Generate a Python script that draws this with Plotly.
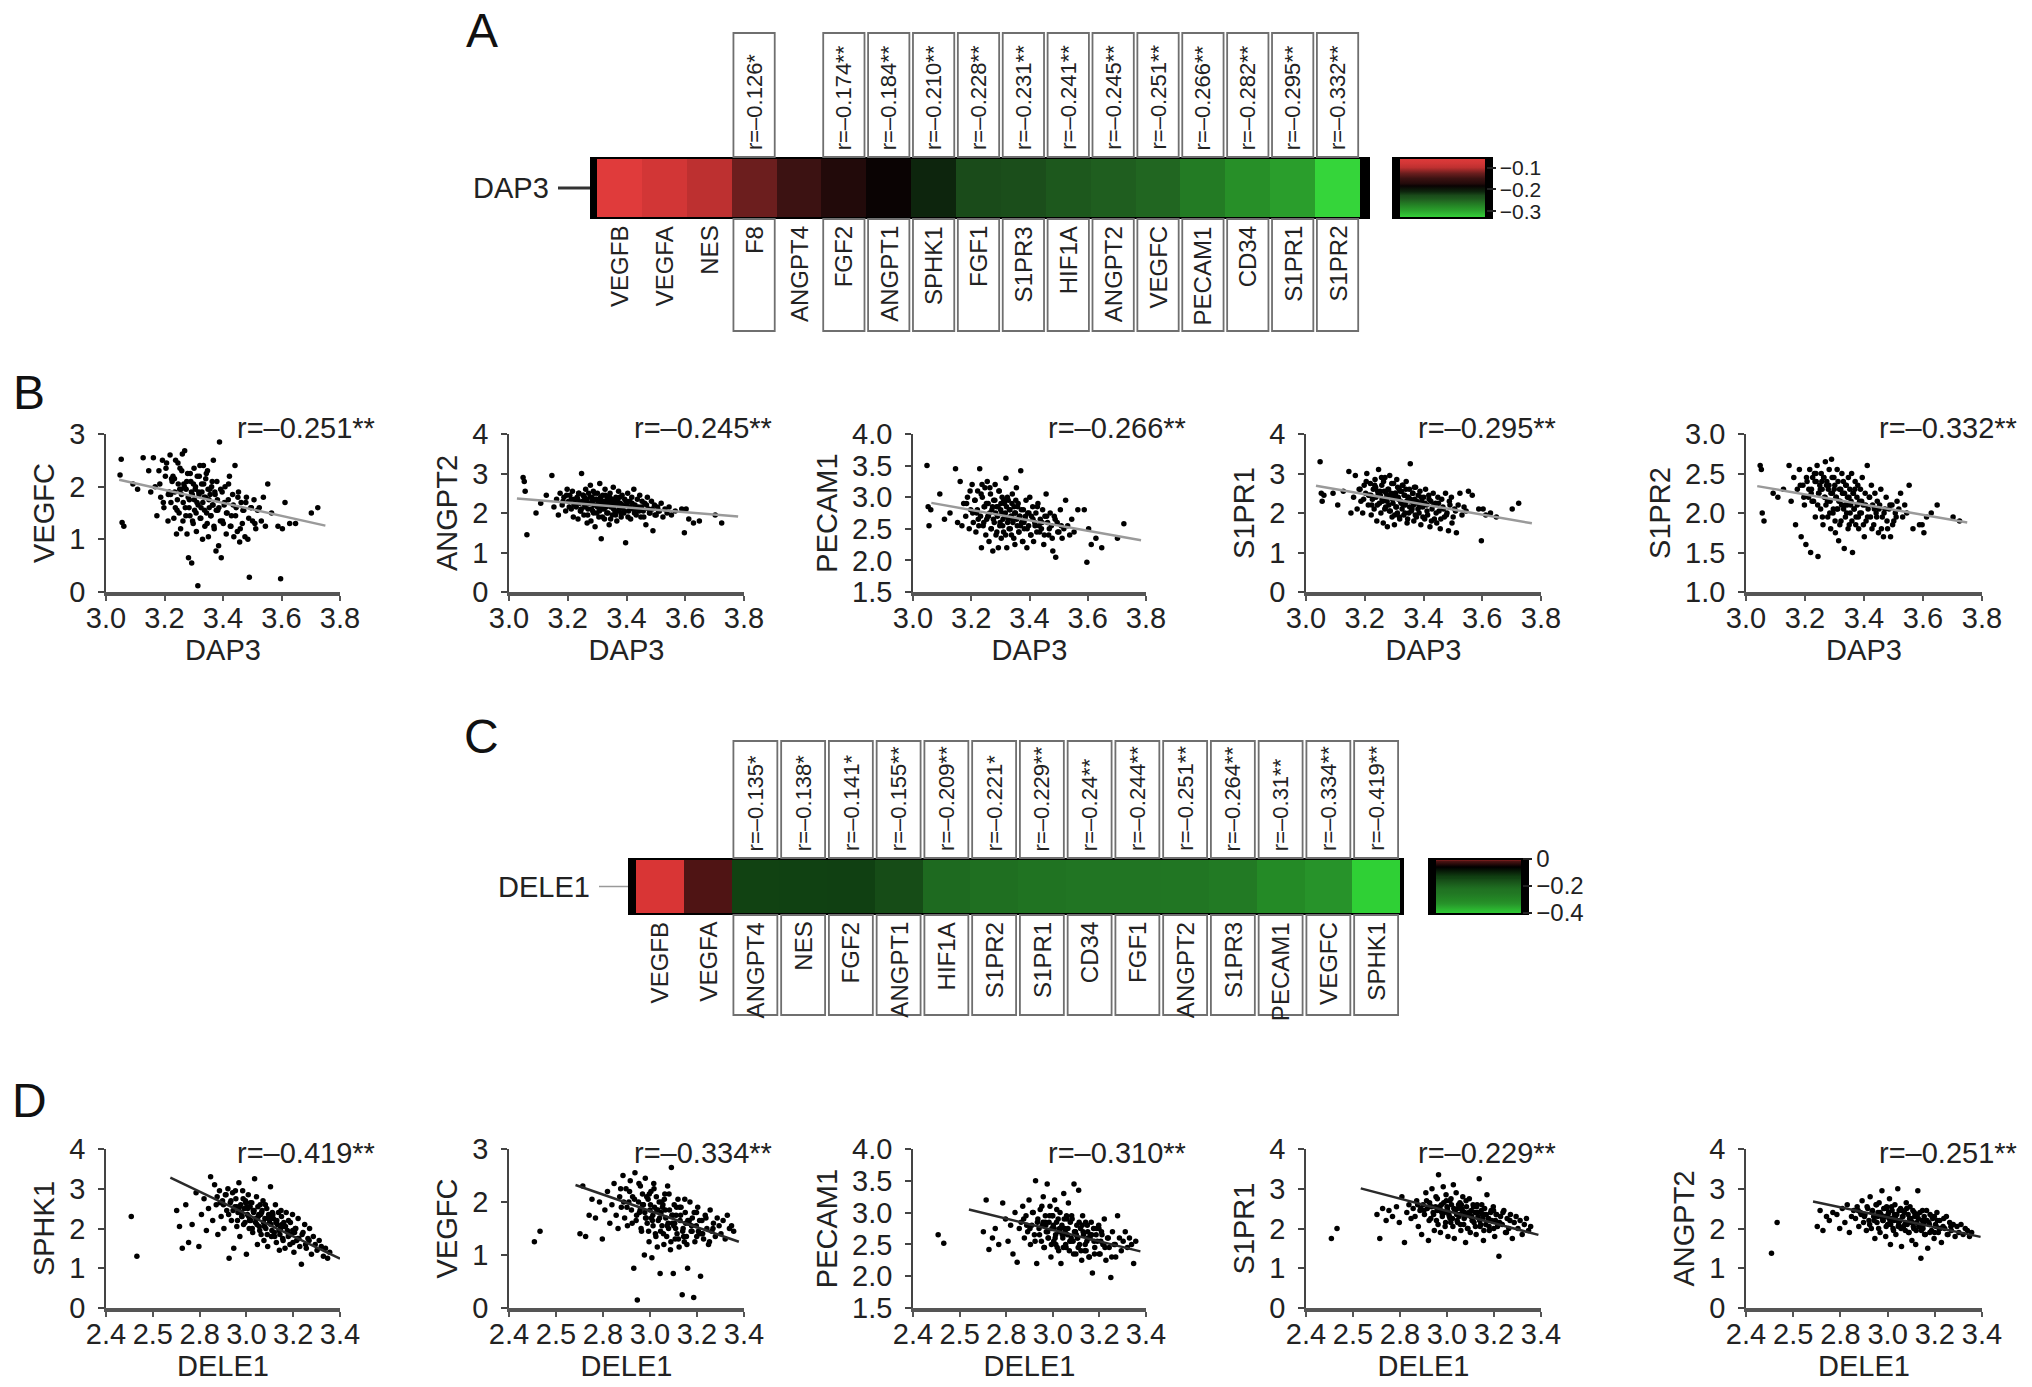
import plotly.graph_objects as go

W, H = 2032, 1387
FONT = "Liberation Sans, Arial, Helvetica, sans-serif"
INK = "#222222"

# ---------------- data: heat strips ----------------
genes_A = ["VEGFB", "VEGFA", "NES", "F8", "ANGPT4", "FGF2", "ANGPT1", "SPHK1", "FGF1",
           "S1PR3", "HIF1A", "ANGPT2", "VEGFC", "PECAM1", "CD34", "S1PR1", "S1PR2"]
r_A = [-0.05, -0.08, -0.10, -0.126, -0.15, -0.174, -0.184, -0.210, -0.228,
       -0.231, -0.241, -0.245, -0.251, -0.266, -0.282, -0.295, -0.332]
labels_A = ["", "", "", "r=–0.126*", "", "r=–0.174**", "r=–0.184**", "r=–0.210**", "r=–0.228**",
            "r=–0.231**", "r=–0.241**", "r=–0.245**", "r=–0.251**", "r=–0.266**", "r=–0.282**",
            "r=–0.295**", "r=–0.332**"]

genes_C = ["VEGFB", "VEGFA", "ANGPT4", "NES", "FGF2", "ANGPT1", "HIF1A", "S1PR2", "S1PR1",
           "CD34", "FGF1", "ANGPT2", "S1PR3", "PECAM1", "VEGFC", "SPHK1"]
r_C = [0.01, -0.015, -0.135, -0.138, -0.141, -0.155, -0.209, -0.221, -0.229,
       -0.24, -0.244, -0.251, -0.264, -0.31, -0.334, -0.419]
labels_C = ["", "", "r=–0.135*", "r=–0.138*", "r=–0.141*", "r=–0.155**", "r=–0.209**", "r=–0.221*",
            "r=–0.229**", "r=–0.24**", "r=–0.244**", "r=–0.251**", "r=–0.264**", "r=–0.31**",
            "r=–0.334**", "r=–0.419**"]

# ---------------- data: scatter (B, x = DAP3) ----------------
dap3 = [
    3.048, 3.052, 3.055, 3.061,
    3.092, 3.108, 3.127, 3.146, 3.153,
    3.162, 3.168, 3.174, 3.181, 3.187, 3.193, 3.198,
    3.203, 3.207, 3.212, 3.216, 3.219, 3.222, 3.226,
    3.229, 3.232, 3.235, 3.238, 3.241, 3.244, 3.247, 3.250,
    3.253, 3.255, 3.258, 3.261, 3.263, 3.266, 3.269, 3.271,
    3.274, 3.277, 3.279, 3.282, 3.285, 3.287, 3.290, 3.293,
    3.295, 3.298, 3.301, 3.303, 3.306, 3.309, 3.311, 3.314,
    3.317, 3.319, 3.322, 3.325, 3.327, 3.330, 3.333, 3.336,
    3.338, 3.341, 3.344, 3.347, 3.350, 3.352, 3.355, 3.358,
    3.361, 3.364, 3.367, 3.370, 3.373, 3.376, 3.379, 3.382,
    3.385, 3.388, 3.391, 3.394, 3.397, 3.401, 3.404, 3.407,
    3.411, 3.414, 3.418, 3.422, 3.425, 3.429, 3.433, 3.437,
    3.441, 3.445, 3.449, 3.453, 3.457, 3.462, 3.466, 3.471,
    3.475, 3.480, 3.485, 3.490, 3.495, 3.501, 3.506, 3.512,
    3.518, 3.524, 3.531, 3.538, 3.545, 3.553, 3.566, 3.588,
    3.597, 3.603, 3.612, 3.628, 3.648, 3.702, 3.724,
    3.221, 3.234, 3.243, 3.252, 3.259, 3.264, 3.268, 3.273,
    3.276, 3.281, 3.284, 3.288, 3.292, 3.296, 3.299, 3.302,
    3.305, 3.308, 3.312, 3.315, 3.318, 3.321, 3.324, 3.328,
    3.331, 3.334, 3.337, 3.340, 3.343, 3.346, 3.349, 3.353,
    3.356, 3.359, 3.363, 3.366, 3.369, 3.372, 3.377, 3.381,
    3.386, 3.392, 3.398, 3.405, 3.412, 3.419, 3.427, 3.435,
    3.443, 3.451, 3.459, 3.468, 3.478, 3.488, 3.497, 3.509,
    3.184, 3.196, 3.205, 3.213, 3.224, 3.237, 3.246, 3.257,
]
vegfc_B = [
    2.22, 2.52, 1.32, 1.25,
    2.05, 1.95, 2.55, 2.30, 1.90,
    2.55, 2.00, 1.45, 2.30, 1.80, 2.50, 1.60,
    2.20, 2.45, 1.35, 1.90, 2.60, 1.70, 2.10,
    2.20, 1.40, 1.90, 2.50, 1.10, 1.75, 2.05, 1.50,
    2.35, 1.20, 1.85, 2.62, 1.35, 2.05, 2.68, 1.60,
    1.95, 1.10, 2.25, 0.65, 1.75, 1.45, 2.10, 0.55,
    1.85, 1.30, 2.35, 1.55, 2.00, 1.15, 1.70, 0.12,
    1.90, 2.20, 1.40, 1.60, 2.05, 1.00, 2.40, 1.80,
    1.25, 2.15, 1.50, 2.30, 1.05, 1.75, 1.95, 1.45,
    2.00, 1.65, 2.50, 1.20, 1.85, 0.78, 2.10, 1.55,
    0.88, 2.85, 1.35, 0.65, 1.90, 1.30, 1.65, 2.00,
    1.10, 1.50, 1.75, 2.20, 1.25, 1.45, 1.85, 1.05,
    2.40, 1.60, 1.15, 1.90, 0.95, 1.70, 1.30, 1.55,
    1.05, 1.80, 1.00, 0.28, 1.60, 1.35, 1.75, 1.20,
    1.55, 1.60, 1.35, 1.80, 1.25, 2.05, 1.50, 1.25,
    0.25, 1.20, 1.70, 1.30, 1.30, 1.50, 1.60,
    1.85, 2.15, 1.55, 1.95, 2.30, 1.70, 2.00, 1.45,
    2.10, 1.80, 1.60, 2.25, 1.90, 1.35, 2.05, 1.75,
    1.95, 1.50, 2.20, 1.65, 1.85, 2.40, 1.40, 1.90,
    1.70, 2.05, 1.55, 1.80, 2.25, 1.30, 1.95, 1.60,
    1.85, 1.45, 2.10, 1.65, 1.25, 1.90, 1.55, 1.75,
    1.60, 1.95, 1.35, 1.70, 1.50, 2.05, 1.25, 1.65,
    1.45, 1.80, 1.20, 1.55, 1.70, 1.40, 1.60, 1.30,
    2.05, 1.70, 2.35, 1.85, 2.15, 1.60, 2.45, 1.95,
]
angpt2_B = [
    2.90, 2.80, 2.55, 1.45,
    2.00, 2.25, 2.45, 2.95, 2.15,
    2.35, 1.95, 2.50, 2.20, 2.40, 2.05, 2.60,
    2.30, 2.45, 2.10, 2.55, 1.90, 2.35, 2.20,
    2.15, 2.40, 1.85, 2.50, 2.25, 2.05, 3.00, 2.30,
    2.45, 1.95, 2.20, 2.60, 2.35, 1.75, 2.10, 2.50,
    2.25, 2.70, 1.80, 2.40, 2.05, 2.55, 2.20, 1.65,
    2.35, 2.00, 2.50, 2.15, 1.90, 2.75, 2.30, 1.35,
    2.10, 2.45, 2.25, 1.85, 2.60, 2.20, 2.00, 2.40,
    2.30, 1.70, 2.50, 2.15, 2.35, 1.95, 2.65, 2.20,
    2.05, 2.40, 1.80, 2.30, 2.55, 2.10, 2.25, 1.90,
    2.45, 2.15, 2.00, 2.35, 1.25, 2.20, 2.50, 2.05,
    2.30, 1.85, 2.40, 2.10, 2.60, 2.20, 1.95, 2.35,
    2.15, 2.45, 1.90, 2.30, 2.05, 2.25, 1.70, 2.40,
    2.10, 2.00, 2.30, 1.55, 2.20, 1.95, 2.15, 2.05,
    2.25, 1.90, 2.10, 2.00, 2.15, 1.95, 2.05, 2.10,
    1.50, 2.10, 1.85, 1.75, 1.80, 1.95, 1.75,
    2.20, 2.35, 2.05, 2.45, 2.15, 2.30, 1.95, 2.25,
    2.40, 2.10, 2.30, 2.00, 2.50, 2.20, 2.35, 2.15,
    2.25, 2.05, 2.40, 2.20, 1.90, 2.30, 2.10, 2.45,
    2.15, 2.35, 2.00, 2.25, 2.40, 1.85, 2.20, 2.30,
    2.10, 2.25, 1.95, 2.35, 2.05, 2.20, 2.40, 2.00,
    2.20, 2.05, 2.30, 1.90, 2.15, 2.25, 2.00, 2.10,
    2.05, 2.15, 1.90, 2.20, 2.00, 2.10, 1.95, 2.05,
    2.30, 2.45, 2.15, 2.35, 2.25, 2.50, 2.10, 2.40,
]
pecam1_B = [
    3.50, 2.85, 2.55, 2.80,
    3.05, 2.65, 2.75, 3.45, 2.60,
    3.25, 2.55, 2.90, 2.70, 3.00, 2.50, 2.80,
    3.20, 2.60, 2.95, 2.45, 2.75, 3.10, 2.55,
    3.45, 2.70, 2.20, 3.00, 2.55, 2.85, 3.15, 2.40,
    2.65, 3.25, 2.90, 2.30, 2.75, 3.05, 2.50, 2.80,
    2.15, 2.95, 2.60, 3.20, 2.40, 2.85, 2.70, 2.20,
    3.10, 2.55, 2.80, 2.35, 3.00, 2.65, 2.45, 2.90,
    2.75, 3.30, 2.20, 2.60, 2.95, 2.50, 2.80, 2.70,
    2.40, 3.05, 2.65, 2.85, 2.25, 2.75, 3.15, 2.55,
    2.90, 2.45, 2.70, 3.42, 2.60, 2.30, 2.80, 2.50,
    2.65, 2.95, 2.20, 2.75, 2.55, 3.00, 2.40, 2.70,
    2.85, 2.30, 2.60, 2.75, 2.45, 2.90, 2.55, 2.65,
    2.50, 2.80, 2.25, 2.70, 3.05, 2.60, 2.40, 2.75,
    2.55, 2.15, 2.70, 2.05, 2.60, 2.45, 2.80, 2.35,
    2.50, 2.95, 2.55, 2.40, 2.65, 2.45, 2.80, 2.80,
    1.97, 2.50, 2.25, 2.35, 2.20, 2.35, 2.58,
    2.80, 3.05, 2.60, 2.90, 2.70, 3.15, 2.50, 2.85,
    2.65, 2.95, 2.75, 2.45, 2.85, 3.10, 2.60, 2.90,
    2.75, 2.55, 2.95, 2.70, 2.40, 2.85, 3.00, 2.65,
    2.80, 2.50, 2.70, 2.90, 2.60, 2.35, 2.75, 2.95,
    2.65, 2.85, 2.45, 2.70, 2.55, 2.80, 2.30, 2.60,
    2.70, 2.50, 2.75, 2.40, 2.65, 2.55, 2.85, 2.45,
    2.60, 2.40, 2.70, 2.50, 2.35, 2.65, 2.45, 2.55,
    2.90, 3.10, 2.75, 2.95, 2.65, 3.20, 2.85, 2.70,
]
s1pr1_B = [
    3.30, 2.50, 2.30, 2.45,
    2.50, 2.20, 2.55, 3.05, 2.00,
    2.40, 2.95, 2.10, 2.60, 2.30, 2.00, 2.70,
    2.50, 3.00, 2.20, 2.45, 2.75, 1.95, 2.35,
    2.60, 2.10, 2.85, 2.40, 1.80, 2.55, 3.10, 2.25,
    2.45, 2.00, 2.70, 2.30, 1.75, 2.55, 2.90, 2.15,
    2.40, 1.65, 2.60, 2.20, 2.95, 2.05, 2.50, 1.90,
    2.35, 2.75, 1.70, 2.50, 2.15, 2.85, 2.00, 2.40,
    2.60, 1.85, 2.30, 2.55, 2.10, 2.70, 1.95, 2.45,
    2.20, 2.80, 1.75, 2.40, 2.00, 2.60, 3.25, 2.30,
    2.10, 2.50, 1.80, 2.35, 2.65, 1.90, 2.25, 2.45,
    2.00, 2.55, 1.70, 2.30, 2.15, 2.40, 1.85, 2.60,
    2.20, 1.95, 2.45, 1.65, 2.30, 2.10, 2.50, 1.85,
    2.25, 1.75, 2.40, 2.05, 1.60, 2.35, 2.15, 1.90,
    2.50, 2.00, 1.55, 2.20, 2.40, 1.90, 2.10, 1.50,
    2.20, 2.50, 1.95, 2.15, 2.05, 2.55, 2.45, 2.10,
    1.30, 2.10, 1.95, 2.00, 1.90, 2.10, 2.25,
    2.45, 2.70, 2.20, 2.55, 2.35, 2.80, 2.10, 2.50,
    2.30, 2.60, 2.05, 2.45, 2.75, 2.25, 2.40, 1.95,
    2.50, 2.15, 2.65, 2.35, 1.90, 2.55, 2.25, 2.70,
    2.20, 2.45, 2.00, 2.60, 2.30, 1.85, 2.40, 2.15,
    2.35, 2.05, 2.50, 2.20, 2.65, 1.95, 2.30, 2.10,
    2.15, 2.40, 1.90, 2.25, 2.05, 2.35, 1.80, 2.20,
    2.00, 2.25, 1.85, 2.10, 1.95, 2.30, 1.75, 2.05,
    2.60, 2.35, 2.80, 2.45, 2.20, 2.65, 2.50, 2.90,
]
s1pr2_B = [
    2.60, 2.55, 2.00, 1.90,
    2.25, 2.20, 2.30, 2.60, 2.15,
    2.45, 1.85, 2.30, 2.55, 1.70, 2.35, 2.10,
    1.60, 2.40, 2.20, 2.55, 1.50, 2.30, 2.45,
    2.15, 2.50, 1.95, 2.40, 2.60, 1.45, 2.25, 2.35,
    2.05, 2.50, 2.30, 1.85, 2.45, 2.20, 2.65, 2.10,
    2.40, 1.95, 2.30, 2.55, 2.15, 1.80, 2.68, 2.25,
    2.00, 2.45, 2.35, 1.75, 2.20, 2.55, 2.05, 1.65,
    2.30, 2.15, 1.90, 2.50, 2.25, 2.40, 1.55, 2.10,
    2.35, 2.00, 2.20, 2.45, 1.85, 2.30, 2.10, 2.50,
    1.50, 2.25, 2.05, 2.40, 1.95, 2.20, 2.35, 1.80,
    2.15, 2.30, 2.00, 2.45, 2.10, 1.70, 2.25, 1.90,
    2.60, 2.05, 2.20, 1.95, 2.35, 2.10, 1.85, 2.25,
    2.00, 2.15, 1.75, 2.10, 2.30, 1.95, 1.70, 2.05,
    2.20, 1.80, 2.05, 1.70, 2.10, 1.90, 2.00, 2.15,
    2.05, 2.25, 1.95, 2.10, 2.00, 2.35, 1.80, 1.85,
    1.85, 1.75, 1.95, 2.00, 2.10, 1.95, 1.90,
    2.25, 2.40, 2.10, 2.30, 1.95, 2.45, 2.20, 2.35,
    2.15, 2.35, 2.00, 2.25, 2.45, 2.05, 2.30, 1.90,
    2.20, 2.05, 2.40, 2.15, 1.85, 2.30, 2.10, 2.25,
    2.05, 2.25, 1.95, 2.35, 2.10, 1.80, 2.20, 2.00,
    2.15, 1.90, 2.25, 2.05, 2.30, 1.85, 2.10, 1.95,
    2.00, 2.15, 1.85, 2.10, 1.95, 2.20, 1.80, 2.05,
    1.95, 2.05, 1.80, 2.00, 1.90, 2.10, 1.85, 1.95,
    2.35, 2.20, 2.45, 2.30, 2.15, 2.50, 2.25, 2.40,
]

# ---------------- data: scatter (D, x = DELE1) ----------------
dele1 = [
    2.508, 2.532,
    2.702, 2.714, 2.726, 2.741, 2.753, 2.768,
    2.785, 2.797, 2.808, 2.819, 2.829, 2.838, 2.847, 2.856,
    2.864, 2.871, 2.878, 2.885, 2.892, 2.898, 2.904, 2.910,
    2.916, 2.921, 2.926, 2.931, 2.936, 2.941, 2.946, 2.951,
    2.955, 2.959, 2.964, 2.968, 2.972, 2.976, 2.980, 2.984,
    2.988, 2.992, 2.996, 3.000, 3.004, 3.008, 3.012, 3.016,
    3.019, 3.023, 3.027, 3.031, 3.035, 3.039, 3.043, 3.047,
    3.051, 3.055, 3.059, 3.063, 3.067, 3.071, 3.075, 3.079,
    3.083, 3.087, 3.091, 3.095, 3.099, 3.103, 3.107, 3.111,
    3.115, 3.119, 3.124, 3.128, 3.132, 3.137, 3.141, 3.146,
    3.150, 3.155, 3.160, 3.165, 3.170, 3.175, 3.180, 3.186,
    3.191, 3.197, 3.203, 3.209, 3.215, 3.221, 3.228, 3.235,
    3.242, 3.249, 3.256, 3.263, 3.270, 3.278, 3.286, 3.294,
    3.302, 3.311, 3.320, 3.329, 3.338, 3.347, 3.356,
    2.902, 2.913, 2.924, 2.934, 2.943, 2.953, 2.962, 2.970,
    2.978, 2.986, 2.994, 3.002, 3.010, 3.017, 3.025, 3.033,
    3.041, 3.049, 3.057, 3.065, 3.073, 3.081, 3.089, 3.097,
    3.105, 3.113, 3.121, 3.130, 3.139, 3.148, 3.157, 3.167,
    3.177, 3.188, 3.199, 3.211, 3.224, 3.238, 3.253, 3.268,
    2.968, 2.981, 2.997, 3.013, 3.029, 3.045, 3.061, 3.077,
    3.093, 3.109, 3.126, 3.143, 3.161, 3.179, 3.198, 3.219,
    2.875, 2.888, 2.958, 3.006, 3.053, 3.101, 3.152, 3.206,
]
sphk1_D = [
    2.30, 1.30,
    2.45, 2.05, 1.50, 2.60, 1.65, 2.10,
    2.90, 1.55, 2.35, 2.75, 1.95, 2.50, 3.30, 2.20,
    3.10, 2.60, 1.85, 2.95, 2.30, 2.70, 2.00, 2.85,
    2.45, 3.00, 1.25, 2.65, 2.20, 2.90, 1.50, 2.55,
    2.75, 2.05, 2.40, 3.15, 1.80, 2.60, 2.30, 2.95,
    2.10, 2.50, 2.70, 1.35, 2.35, 2.85, 2.00, 2.55,
    2.20, 2.65, 1.90, 2.40, 3.25, 2.15, 2.80, 1.60,
    2.30, 2.05, 2.60, 1.85, 2.45, 2.70, 1.70, 2.25,
    2.00, 2.50, 1.55, 2.35, 2.15, 3.05, 1.80, 2.40,
    2.25, 1.90, 2.60, 1.65, 2.10, 2.40, 1.45, 2.00,
    2.30, 1.75, 2.15, 1.50, 2.40, 1.95, 2.20, 1.60,
    1.85, 2.35, 1.40, 2.00, 1.70, 2.25, 1.55, 1.10,
    1.90, 2.10, 1.50, 1.75, 2.00, 1.35, 1.80, 1.60,
    1.45, 1.70, 1.55, 1.30, 1.50, 1.25, 1.40,
    2.60, 2.85, 2.35, 2.70, 2.45, 2.95, 2.20, 2.55,
    2.40, 2.75, 2.15, 2.55, 2.30, 2.65, 2.00, 2.45,
    2.25, 2.55, 1.95, 2.40, 2.15, 2.60, 1.85, 2.30,
    2.10, 2.35, 1.80, 2.20, 1.95, 2.45, 1.70, 2.05,
    1.90, 2.15, 1.65, 2.00, 1.75, 1.85, 1.60, 1.70,
    2.50, 2.30, 2.65, 2.20, 2.45, 2.10, 2.35, 2.05,
    2.25, 1.95, 2.15, 1.85, 2.05, 1.80, 1.95, 1.75,
    2.80, 2.65, 2.55, 2.50, 2.35, 2.25, 2.10, 1.90,
]
vegfc_D = [
    1.25, 1.45,
    1.40, 2.30, 1.35, 1.75, 2.05, 1.70,
    2.00, 1.30, 1.85, 2.20, 1.60, 1.95, 2.35, 1.75,
    1.50, 2.10, 1.90, 2.50, 1.70, 2.25, 1.55, 2.00,
    2.40, 1.85, 2.10, 0.75, 2.55, 1.65, 0.15, 2.00,
    1.80, 2.30, 1.45, 2.15, 1.95, 1.00, 2.45, 1.70,
    1.60, 2.05, 1.25, 1.85, 2.20, 0.95, 1.75, 2.35,
    1.90, 1.40, 2.10, 1.15, 1.65, 2.00, 0.65, 1.80,
    1.55, 1.95, 1.20, 2.15, 1.70, 1.35, 2.30, 1.50,
    1.85, 1.10, 2.65, 1.60, 0.65, 1.95, 1.30, 1.75,
    1.40, 2.05, 1.15, 1.65, 1.90, 0.25, 1.50, 1.25,
    1.80, 1.35, 0.75, 1.60, 2.00, 1.45, 1.70, 0.20,
    1.25, 1.55, 1.90, 1.40, 0.60, 1.65, 1.30, 1.75,
    1.50, 1.20, 1.85, 1.45, 1.60, 1.35, 1.70, 1.55,
    1.40, 1.65, 1.30, 1.75, 1.50, 1.55, 1.45,
    1.90, 2.20, 1.60, 2.05, 1.75, 2.35, 1.50, 1.95,
    1.80, 2.10, 1.45, 1.95, 1.65, 2.25, 1.35, 1.85,
    1.70, 2.00, 1.40, 1.85, 1.55, 2.15, 1.25, 1.75,
    1.60, 1.90, 1.30, 1.75, 1.45, 2.05, 1.20, 1.65,
    1.55, 1.80, 1.35, 1.65, 1.40, 1.70, 1.25, 1.50,
    1.95, 1.70, 2.15, 1.55, 1.85, 1.45, 2.05, 1.60,
    1.75, 1.50, 1.90, 1.35, 1.65, 1.45, 1.80, 1.40,
    2.25, 2.00, 1.85, 1.70, 1.90, 1.55, 1.60, 1.45,
]
pecam1_D = [
    2.65, 2.52,
    2.70, 3.20, 2.42, 2.60, 2.75, 2.50,
    3.15, 2.90, 2.55, 2.80, 2.35, 3.00, 2.22, 2.75,
    2.85, 3.10, 2.60, 2.95, 2.70, 3.20, 2.50, 2.80,
    3.00, 2.65, 3.50, 2.20, 2.90, 2.75, 3.05, 2.55,
    2.80, 3.25, 2.45, 2.95, 2.70, 3.45, 2.60, 2.85,
    3.10, 2.30, 2.75, 2.95, 2.55, 3.20, 2.65, 2.85,
    2.45, 2.90, 2.70, 3.00, 2.20, 2.80, 2.60, 3.30,
    2.75, 2.50, 2.95, 2.65, 3.15, 2.40, 2.85, 2.60,
    2.90, 2.55, 3.45, 2.70, 2.35, 2.80, 2.60, 3.35,
    2.50, 2.75, 2.25, 2.95, 2.65, 2.40, 2.85, 2.55,
    2.70, 2.30, 2.60, 2.85, 2.05, 2.75, 2.45, 2.65,
    2.55, 2.80, 2.35, 2.70, 2.50, 2.90, 2.25, 2.60,
    2.45, 1.98, 2.70, 2.50, 2.30, 2.95, 2.60, 2.40,
    2.55, 2.70, 2.45, 2.60, 2.50, 2.20, 2.55,
    2.75, 3.00, 2.55, 2.85, 2.65, 3.10, 2.45, 2.80,
    2.70, 2.95, 2.50, 2.80, 2.60, 3.05, 2.40, 2.75,
    2.65, 2.90, 2.45, 2.75, 2.55, 2.95, 2.35, 2.70,
    2.60, 2.85, 2.40, 2.70, 2.50, 2.80, 2.30, 2.65,
    2.55, 2.75, 2.35, 2.65, 2.45, 2.60, 2.30, 2.50,
    2.85, 2.60, 2.95, 2.50, 2.75, 2.45, 2.90, 2.55,
    2.70, 2.45, 2.80, 2.40, 2.65, 2.35, 2.75, 2.50,
    2.90, 2.80, 2.85, 2.75, 2.70, 2.65, 2.60, 2.55,
]
s1pr1_D = [
    1.75, 2.00,
    2.35, 1.75, 2.50, 2.20, 2.45, 2.30,
    2.55, 2.15, 2.80, 1.65, 2.40, 2.60, 2.25, 2.50,
    2.30, 2.70, 2.05, 2.45, 1.85, 2.60, 2.35, 2.90,
    2.50, 1.70, 2.65, 2.25, 3.00, 2.40, 1.95, 2.55,
    2.20, 2.75, 3.35, 2.45, 1.90, 2.60, 2.30, 3.05,
    2.40, 2.05, 2.85, 2.55, 1.80, 2.35, 2.70, 2.15,
    2.60, 2.25, 3.10, 1.75, 2.45, 2.90, 2.20, 2.50,
    2.30, 2.65, 1.95, 2.50, 2.80, 2.10, 2.40, 1.65,
    2.55, 2.00, 2.35, 2.75, 1.90, 2.45, 2.20, 2.60,
    2.15, 2.40, 1.85, 2.60, 2.30, 3.25, 2.05, 2.45,
    2.35, 1.70, 2.50, 2.10, 2.85, 2.25, 1.95, 2.40,
    2.20, 2.55, 1.80, 2.35, 2.05, 1.30, 2.30, 2.10,
    2.45, 1.90, 2.25, 2.00, 2.35, 1.75, 2.15, 2.30,
    2.00, 2.20, 1.85, 2.10, 2.25, 1.95, 2.05,
    2.45, 2.70, 2.20, 2.55, 2.35, 2.80, 2.10, 2.50,
    2.40, 2.65, 2.15, 2.50, 2.30, 2.75, 2.05, 2.45,
    2.35, 2.60, 2.10, 2.45, 2.25, 2.70, 2.00, 2.40,
    2.30, 2.55, 2.05, 2.40, 2.20, 2.60, 1.95, 2.35,
    2.25, 2.45, 2.00, 2.35, 2.15, 2.40, 1.90, 2.20,
    2.55, 2.35, 2.70, 2.25, 2.50, 2.15, 2.60, 2.30,
    2.40, 2.20, 2.55, 2.10, 2.35, 2.05, 2.45, 2.15,
    2.60, 2.50, 2.45, 2.40, 2.35, 2.30, 2.25, 2.20,
]
angpt2_D = [
    1.38, 2.15,
    2.05, 2.45, 1.95, 2.30, 2.20, 2.40,
    2.35, 2.00, 2.50, 2.15, 2.60, 1.90, 2.30, 2.45,
    2.25, 2.55, 2.05, 2.40, 2.70, 2.15, 2.35, 1.95,
    2.50, 2.20, 2.80, 2.00, 2.45, 2.30, 1.75, 2.60,
    2.15, 2.40, 2.65, 1.90, 2.35, 2.95, 2.20, 2.50,
    2.30, 1.80, 2.55, 2.10, 2.40, 2.75, 1.60, 2.25,
    2.45, 2.00, 2.20, 2.60, 1.85, 2.35, 3.00, 2.10,
    2.20, 2.50, 1.55, 2.30, 2.05, 2.40, 1.95, 2.65,
    2.10, 2.35, 1.90, 2.55, 2.20, 1.70, 2.45, 2.00,
    2.30, 1.60, 2.15, 2.95, 2.05, 2.40, 1.25, 2.20,
    2.00, 2.30, 1.85, 2.45, 1.50, 2.15, 2.35, 1.95,
    2.25, 1.75, 2.10, 2.40, 1.90, 2.20, 1.65, 2.05,
    2.00, 2.30, 1.85, 2.15, 1.95, 2.10, 1.80, 2.05,
    1.90, 2.10, 1.85, 2.00, 1.95, 1.80, 1.90,
    2.30, 2.55, 2.10, 2.40, 2.20, 2.60, 2.00, 2.35,
    2.25, 2.50, 2.05, 2.35, 2.15, 2.55, 1.95, 2.30,
    2.20, 2.45, 2.00, 2.30, 2.10, 2.50, 1.90, 2.25,
    2.15, 2.40, 1.95, 2.25, 2.05, 2.45, 1.85, 2.20,
    2.10, 2.30, 1.90, 2.20, 2.00, 2.25, 1.85, 2.05,
    2.40, 2.20, 2.50, 2.10, 2.35, 2.05, 2.45, 2.15,
    2.25, 2.05, 2.35, 1.95, 2.20, 1.90, 2.30, 2.00,
    2.45, 2.35, 2.30, 2.25, 2.20, 2.15, 2.10, 2.05,
]

# regression lines: [x_start, x_end], [y_start, y_end]
fit_B_x = [[3.045, 3.75], [3.027, 3.78], [3.063, 3.783], [3.034, 3.769], [3.038, 3.75]]
fit_B_y = [[2.13, 1.26], [2.37, 1.91], [2.91, 2.32], [2.69, 1.74], [2.34, 1.88]]
fit_D_x = [[2.675, 3.40], [2.683, 3.378], [2.64, 3.376], [2.633, 3.389], [2.684, 3.394]]
fit_D_y = [[3.28, 1.24], [2.32, 1.25], [3.05, 2.39], [3.01, 1.84], [2.68, 1.79]]

names_B = ["VEGFC", "ANGPT2", "PECAM1", "S1PR1", "S1PR2"]
ys_B = [vegfc_B, angpt2_B, pecam1_B, s1pr1_B, s1pr2_B]
rtext_B = ["r=–0.251**", "r=–0.245**", "r=–0.266**", "r=–0.295**", "r=–0.332**"]
yticks_B = [[0, 1, 2, 3], [0, 1, 2, 3, 4], [1.5, 2.0, 2.5, 3.0, 3.5, 4.0], [0, 1, 2, 3, 4], [1.0, 1.5, 2.0, 2.5, 3.0]]

names_D = ["SPHK1", "VEGFC", "PECAM1", "S1PR1", "ANGPT2"]
ys_D = [sphk1_D, vegfc_D, pecam1_D, s1pr1_D, angpt2_D]
rtext_D = ["r=–0.419**", "r=–0.334**", "r=–0.310**", "r=–0.229**", "r=–0.251**"]
yticks_D = [[0, 1, 2, 3, 4], [0, 1, 2, 3], [1.5, 2.0, 2.5, 3.0, 3.5, 4.0], [0, 1, 2, 3, 4], [0, 1, 2, 3, 4]]

xticks_B = [3.0, 3.2, 3.4, 3.6, 3.8]
xticks_D = [2.4, 2.6, 2.8, 3.0, 3.2, 3.4]
xticktext_D = ["2.4", "2.5", "2.8", "3.0", "3.2", "3.4"]

for ys in ys_B:
    assert len(ys) == len(dap3), (len(ys), len(dap3))
for ys in ys_D:
    assert len(ys) == len(dele1), (len(ys), len(dele1))

# ---------------- styling / layout helpers ----------------
def fx(px):
    return px / W


def fy(py):
    return 1 - py / H


def scale(stops, zmin, zmax):
    return [[(v - zmin) / (zmax - zmin), c] for v, c in stops]


zA = (-0.331, -0.056)
stops_A = [(-0.331, "#35d53a"), (-0.295, "#2a9e2c"), (-0.282, "#278f28"), (-0.266, "#237b24"),
           (-0.251, "#216621"), (-0.241, "#1d581d"), (-0.228, "#1a4b1a"), (-0.210, "#0d250d"),
           (-0.184, "#0a0303"), (-0.174, "#220a0a"), (-0.150, "#3c1212"), (-0.126, "#6c1e1e"),
           (-0.100, "#bd3030"), (-0.080, "#d23636"), (-0.056, "#e03b3b")]
zC = (-0.41, 0.0)
stops_C = [(-0.41, "#2fd035"), (-0.334, "#27932a"), (-0.31, "#248a26"), (-0.264, "#227a24"),
           (-0.25, "#217623"), (-0.229, "#207322"), (-0.209, "#1e6a20"), (-0.155, "#164c17"),
           (-0.141, "#104012"), (-0.135, "#114212"), (-0.06, "#000000"), (-0.015, "#4f1414"),
           (0.0, "#d93535")]

fig = go.Figure()
shapes = []
annotations = []
layout_axes = {}

strips = [
    dict(genes=genes_A, vals=r_A, labels=labels_A, z=zA, stops=stops_A, ax=1,
         cells=(597, 1360), bar=(159, 217), outer=(590, 1370, 157, 219),
         box_top=33, box_bot=331, r_bottom=152, g_top=224,
         cb=(1399, 1486), cb_ticks=[-0.1, -0.2, -0.3], cb_font=21, row="DAP3", row_right=551,
         tick_line=(558, 590, 3, "#333333")),
    dict(genes=genes_C, vals=r_C, labels=labels_C, z=zC, stops=stops_C, ax=2,
         cells=(636, 1400), bar=(860, 913), outer=(628, 1404, 858, 915),
         box_top=741, box_bot=1015, r_bottom=853, g_top=920,
         cb=(1435, 1522), cb_ticks=[0, -0.2, -0.4], cb_font=24, row="DELE1", row_right=592,
         tick_line=(599, 628, 1.5, "#999999")),
]

for s in strips:
    n = len(s["genes"])
    k = s["ax"]
    xa = "x" if k == 1 else f"x{k}"
    ya = "y" if k == 1 else f"y{k}"
    cb_top, cb_bot = s["outer"][2], s["outer"][3]
    fig.add_trace(go.Heatmap(
        z=[s["vals"]], x=list(range(n)), y=[0], xaxis=xa, yaxis=ya,
        zmin=s["z"][0], zmax=s["z"][1], colorscale=scale(s["stops"], *s["z"]),
        hoverinfo="skip",
        colorbar=dict(x=fx(s["cb"][0]), xanchor="left", xpad=0, ypad=0,
                      y=fy((cb_top + cb_bot) / 2), yanchor="middle",
                      lenmode="pixels", len=cb_bot - cb_top - 2,
                      thicknessmode="pixels", thickness=s["cb"][1] - s["cb"][0],
                      outlinewidth=2, outlinecolor="black",
                      tickmode="array", tickvals=s["cb_ticks"],
                      ticks="outside", ticklen=9, tickwidth=2, tickcolor="#222222",
                      tickfont=dict(size=s["cb_font"], color=INK, family=FONT)),
    ))
    key = "" if k == 1 else str(k)
    layout_axes["xaxis" + key] = dict(domain=[fx(s["cells"][0]), fx(s["cells"][1])],
                                      range=[-0.5, n - 0.5], visible=False, anchor=ya)
    layout_axes["yaxis" + key] = dict(domain=[fy(s["bar"][1]), fy(s["bar"][0])],
                                      range=[-0.5, 0.5], visible=False, anchor=xa)
    ox0, ox1, oy0, oy1 = s["outer"]
    shapes.append(dict(type="rect", xref="paper", yref="paper", x0=fx(ox0), x1=fx(ox1),
                       y0=fy(oy1), y1=fy(oy0), fillcolor="black", line=dict(width=0), layer="below"))
    for a, b in [(s["cb"][0] - 7, s["cb"][0]), (s["cb"][1], s["cb"][1] + 7)]:
        shapes.append(dict(type="rect", xref="paper", yref="paper", x0=fx(a), x1=fx(b),
                           y0=fy(oy1), y1=fy(oy0), fillcolor="black", line=dict(width=0)))
    annotations.append(dict(text=s["row"], xref="paper", yref="paper", x=fx(s["row_right"]),
                            y=fy((s["bar"][0] + s["bar"][1]) / 2), xanchor="right", yanchor="middle",
                            showarrow=False, font=dict(size=29, color=INK)))
    tl = s["tick_line"]
    shapes.append(dict(type="line", xref="paper", yref="paper", x0=fx(tl[0]), x1=fx(tl[1]),
                       y0=fy((s["bar"][0] + s["bar"][1]) / 2), y1=fy((s["bar"][0] + s["bar"][1]) / 2),
                       line=dict(color=tl[3], width=tl[2])))
    for i, (g, lab) in enumerate(zip(s["genes"], s["labels"])):
        if lab:
            for y0p, y1p in [(oy0, s["box_top"]), (s["box_bot"], oy1)]:
                shapes.append(dict(type="rect", xref=xa, yref="paper", x0=i - 0.46, x1=i + 0.46,
                                   y0=fy(y0p), y1=fy(y1p), line=dict(color="#6f6f6f", width=1.8),
                                   fillcolor="rgba(0,0,0,0)", layer="below"))
            annotations.append(dict(text=lab, xref=xa, yref="paper", x=i, y=fy(s["r_bottom"]),
                                    xanchor="center", yanchor="bottom", textangle=-90,
                                    showarrow=False, font=dict(size=22, color=INK)))
        annotations.append(dict(text=g, xref=xa, yref="paper", x=i, y=fy(s["g_top"]),
                                xanchor="center", yanchor="top", textangle=-90,
                                showarrow=False, font=dict(size=24, color=INK)))

# ---------------- scatter panels ----------------
col_px = [(106, 340), (509, 744), (913, 1146), (1306, 1541), (1746, 1982)]
r_right = [377, 774, 1188, 1558, 2019]

rows = [
    dict(x=dap3, ys=ys_B, names=names_B, rt=rtext_B, yt=yticks_B, fx_=fit_B_x, fy_=fit_B_y,
         xr=[3.0, 3.8], xt=xticks_B, xtt=[f"{v:.1f}" for v in xticks_B], xtitle="DAP3",
         top=434, bot=592, r_y=428, line_col="#9a9a9a", first_ax=3),
    dict(x=dele1, ys=ys_D, names=names_D, rt=rtext_D, yt=yticks_D, fx_=fit_D_x, fy_=fit_D_y,
         xr=[2.4, 3.4], xt=xticks_D, xtt=xticktext_D, xtitle="DELE1",
         top=1149, bot=1308, r_y=1153, line_col="#2a2a2a", first_ax=8),
]

for row in rows:
    for j in range(5):
        k = row["first_ax"] + j
        xa, ya = f"x{k}", f"y{k}"
        fig.add_trace(go.Scatter(x=row["x"], y=row["ys"][j], mode="markers", xaxis=xa, yaxis=ya,
                                 marker=dict(color="black", size=5.5, line=dict(width=0)),
                                 hoverinfo="skip", showlegend=False))
        fig.add_trace(go.Scatter(x=row["fx_"][j], y=row["fy_"][j], mode="lines", xaxis=xa, yaxis=ya,
                                 line=dict(color=row["line_col"], width=2.5),
                                 hoverinfo="skip", showlegend=False))
        yt = row["yt"][j]
        ytext = [f"{v:.1f}" if any(t % 1 for t in yt) else f"{v:g}" for v in yt]
        layout_axes[f"xaxis{k}"] = dict(
            domain=[fx(col_px[j][0]), fx(col_px[j][1])], anchor=ya, range=row["xr"],
            tickmode="array", tickvals=row["xt"], ticktext=row["xtt"], tickangle=0,
            showline=True, linecolor="#555555", linewidth=3.5, ticks="outside", ticklen=5,
            tickwidth=2, tickcolor="#555555", showgrid=False, zeroline=False,
            ticklabelstandoff=-8,
            tickfont=dict(size=29, color=INK),
            title=dict(text=row["xtitle"], font=dict(size=29, color=INK), standoff=4))
        layout_axes[f"yaxis{k}"] = dict(
            domain=[fy(row["bot"]), fy(row["top"])], anchor=xa, range=[yt[0], yt[-1]],
            tickmode="array", tickvals=yt, ticktext=ytext,
            showline=True, linecolor="#444444", linewidth=1.6, ticks="outside", ticklen=6,
            tickwidth=1.6, tickcolor="#444444", showgrid=False, zeroline=False,
            ticklabelstandoff=7,
            tickfont=dict(size=29, color=INK),
            title=dict(text=row["names"][j], font=dict(size=29, color=INK), standoff=6))
        annotations.append(dict(text=row["rt"][j], xref="paper", yref="paper", x=fx(r_right[j]),
                                y=fy(row["r_y"]), xanchor="right", yanchor="middle",
                                showarrow=False, font=dict(size=29, color=INK)))

for letter, (px, py) in zip("ABCD", [(482, 30), (29, 392), (481, 736), (29, 1100)]):
    annotations.append(dict(text=letter, xref="paper", yref="paper", x=fx(px), y=fy(py),
                            xanchor="center", yanchor="middle", showarrow=False,
                            font=dict(size=48, color="#111111")))

fig.update_layout(
    width=W, height=H, margin=dict(l=0, r=0, t=0, b=0, pad=0, autoexpand=False),
    paper_bgcolor="white", plot_bgcolor="white", showlegend=False,
    font=dict(family=FONT, color=INK),
    shapes=shapes, annotations=annotations, **layout_axes,
)

fig.write_html(
    "out.html",
    config={"displayModeBar": False},
    post_script="document.body.style.margin='0';document.body.style.overflow='hidden';",
)
